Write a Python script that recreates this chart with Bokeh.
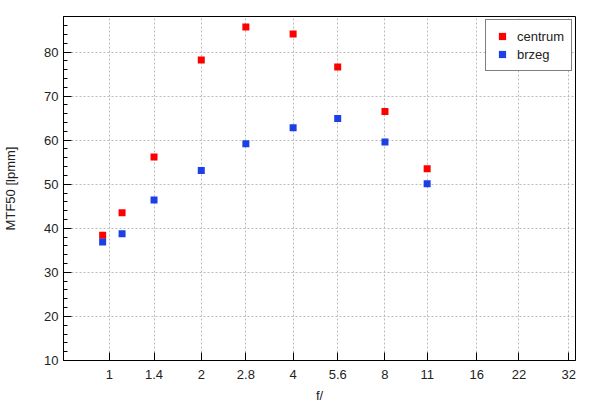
from bokeh.plotting import figure
from bokeh.models import Range1d, FixedTicker, SingleIntervalTicker, Legend, LegendItem
from bokeh.embed import file_html
from bokeh.resources import INLINE

# data
f_stops = [0.95, 1.1, 1.4, 2, 2.8, 4, 5.6, 8, 11]
centrum = [38.4, 43.5, 56.2, 78.2, 85.7, 84.1, 76.6, 66.5, 53.5]
brzeg = [36.9, 38.75, 46.4, 53.1, 59.2, 62.8, 64.9, 59.6, 50.1]
x_ticks = [1, 1.4, 2, 2.8, 4, 5.6, 8, 11, 16, 22, 32]
x_tick_labels = ["1", "1.4", "2", "2.8", "4", "5.6", "8", "11", "16", "22", "32"]

FONT = "Liberation Sans"
FS = "13px"

p = figure(width=600, height=415, x_axis_type="log",
           x_range=Range1d(0.707, 33.7), y_range=Range1d(10, 88.06),
           output_backend="svg", toolbar_location=None,
           min_border_left=62, min_border_right=25, min_border_top=16, min_border_bottom=55)

p.outline_line_color = "black"
p.outline_line_width = 1
p.background_fill_color = "white"
p.border_fill_color = "white"

r1 = p.scatter(f_stops, centrum, marker="square", size=7, fill_color="#ff0000", line_color=None)
r2 = p.scatter(f_stops, brzeg, marker="square", size=7, fill_color="#1c3fe6", line_color=None)

# x axis
p.xaxis.ticker = FixedTicker(ticks=x_ticks, minor_ticks=[])
p.xaxis.major_label_overrides = {t: l for t, l in zip(x_ticks, x_tick_labels)}
p.xaxis.axis_label = "f/"
# y axis
p.yaxis.ticker = SingleIntervalTicker(interval=10, num_minor_ticks=5)
p.yaxis.axis_label = "MTF50 [lpmm]"

for ax in (p.xaxis, p.yaxis):
    ax.axis_line_color = "black"
    ax.major_tick_line_color = "black"
    ax.minor_tick_line_color = "black"
    ax.major_tick_in = 8
    ax.major_tick_out = 0
    ax.minor_tick_in = 4
    ax.minor_tick_out = 0
    ax.major_label_text_font = FONT
    ax.major_label_text_font_size = FS
    ax.major_label_text_color = "#222222"
    ax.axis_label_text_font = FONT
    ax.axis_label_text_font_size = FS
    ax.axis_label_text_font_style = "normal"
    ax.axis_label_text_color = "#222222"

p.xaxis.major_label_standoff = 9
p.xaxis.axis_label_standoff = 6
p.yaxis.major_label_standoff = 5
p.yaxis.axis_label_standoff = 23

p.xgrid.ticker = p.xaxis.ticker
p.ygrid.ticker = p.yaxis.ticker
for g in (p.xgrid, p.ygrid):
    g.grid_line_color = "#bbbbbb"
    g.grid_line_dash = "2 2"
    g.grid_line_width = 1

legend = Legend(items=[LegendItem(label="centrum", renderers=[r1]),
                       LegendItem(label="brzeg", renderers=[r2])],
                location=(422, 289), margin=0, padding=7, spacing=-1,
                glyph_width=18, glyph_height=18, label_height=18, label_standoff=6,
                label_text_font=FONT, label_text_font_size=FS, label_text_color="#222222",
                border_line_color="black", border_line_width=1,
                background_fill_color="white", background_fill_alpha=1.0)
p.add_layout(legend)

open("out.html", "w").write(file_html(p, INLINE))
